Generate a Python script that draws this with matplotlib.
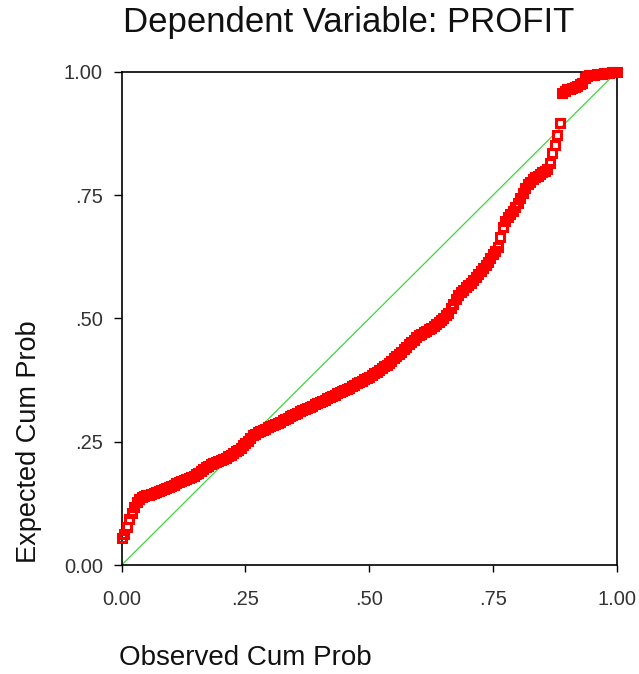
import matplotlib
matplotlib.use("Agg")
import matplotlib.pyplot as plt

plt.rcParams['font.family'] = ['Liberation Sans', 'DejaVu Sans']

TITLE = "Dependent Variable: PROFIT"
XLABEL = "Observed Cum Prob"
YLABEL = "Expected Cum Prob"
TICKS = [0.0, 0.25, 0.5, 0.75, 1.0]
TICK_LABELS = ["0.00", ".25", ".50", ".75", "1.00"]

# observed cumulative probability (x) and expected cumulative probability (y)
observed = [
    0.000, 0.005, 0.010, 0.015, 0.020, 0.025, 0.030, 0.035, 0.040, 0.045,
    0.050, 0.055, 0.060, 0.065, 0.070, 0.075, 0.080, 0.085, 0.090, 0.095,
    0.100, 0.105, 0.110, 0.115, 0.120, 0.125, 0.130, 0.135, 0.140, 0.145,
    0.150, 0.155, 0.160, 0.165, 0.170, 0.175, 0.180, 0.185, 0.190, 0.195,
    0.200, 0.205, 0.210, 0.215, 0.220, 0.225, 0.230, 0.235, 0.240, 0.245,
    0.250, 0.255, 0.260, 0.265, 0.270, 0.275, 0.280, 0.285, 0.290, 0.295,
    0.300, 0.305, 0.310, 0.315, 0.320, 0.325, 0.330, 0.335, 0.340, 0.345,
    0.350, 0.355, 0.360, 0.365, 0.370, 0.375, 0.380, 0.385, 0.390, 0.395,
    0.400, 0.405, 0.410, 0.415, 0.420, 0.425, 0.430, 0.435, 0.440, 0.445,
    0.450, 0.455, 0.460, 0.465, 0.470, 0.475, 0.480, 0.485, 0.490, 0.495,
    0.500, 0.505, 0.510, 0.515, 0.520, 0.525, 0.530, 0.535, 0.540, 0.545,
    0.550, 0.555, 0.560, 0.565, 0.570, 0.575, 0.580, 0.585, 0.590, 0.595,
    0.600, 0.605, 0.610, 0.615, 0.620, 0.625, 0.630, 0.635, 0.640, 0.645,
    0.650, 0.655, 0.660, 0.665, 0.670, 0.675, 0.680, 0.685, 0.690, 0.695,
    0.700, 0.705, 0.710, 0.715, 0.720, 0.725, 0.730, 0.735, 0.740, 0.745,
    0.750, 0.755, 0.760, 0.765, 0.770, 0.775, 0.780, 0.785, 0.790, 0.795,
    0.800, 0.805, 0.810, 0.815, 0.820, 0.825, 0.830, 0.835, 0.840, 0.845,
    0.850, 0.855, 0.860, 0.865, 0.870, 0.875, 0.880, 0.885, 0.890, 0.895,
    0.900, 0.905, 0.910, 0.915, 0.920, 0.925, 0.930, 0.935, 0.940, 0.945,
    0.950, 0.955, 0.960, 0.965, 0.970, 0.975, 0.980, 0.985, 0.990, 0.995,
    1.000,
]
expected = [
    0.055, 0.062, 0.078, 0.093, 0.106, 0.118, 0.128, 0.134, 0.137, 0.139,
    0.141, 0.143, 0.145, 0.147, 0.149, 0.151, 0.152, 0.154, 0.156, 0.158,
    0.160, 0.163, 0.166, 0.168, 0.170, 0.172, 0.174, 0.176, 0.178, 0.181,
    0.184, 0.187, 0.190, 0.194, 0.198, 0.201, 0.204, 0.206, 0.208, 0.210,
    0.212, 0.215, 0.218, 0.221, 0.223, 0.227, 0.231, 0.234, 0.238, 0.243,
    0.248, 0.252, 0.257, 0.263, 0.266, 0.269, 0.271, 0.274, 0.276, 0.279,
    0.281, 0.284, 0.286, 0.289, 0.291, 0.294, 0.297, 0.299, 0.302, 0.304,
    0.307, 0.309, 0.312, 0.314, 0.316, 0.319, 0.321, 0.323, 0.326, 0.328,
    0.330, 0.333, 0.335, 0.338, 0.340, 0.343, 0.345, 0.348, 0.350, 0.353,
    0.355, 0.358, 0.360, 0.363, 0.366, 0.369, 0.372, 0.374, 0.377, 0.379,
    0.382, 0.385, 0.389, 0.392, 0.395, 0.399, 0.403, 0.406, 0.410, 0.414,
    0.419, 0.423, 0.428, 0.433, 0.438, 0.443, 0.448, 0.452, 0.457, 0.462,
    0.466, 0.469, 0.472, 0.475, 0.478, 0.481, 0.485, 0.488, 0.492, 0.497,
    0.502, 0.507, 0.512, 0.521, 0.530, 0.539, 0.548, 0.553, 0.558, 0.563,
    0.568, 0.573, 0.579, 0.584, 0.590, 0.596, 0.602, 0.608, 0.614, 0.622,
    0.630, 0.637, 0.645, 0.665, 0.685, 0.697, 0.705, 0.711, 0.718, 0.726,
    0.735, 0.745, 0.755, 0.764, 0.772, 0.777, 0.782, 0.786, 0.790, 0.794,
    0.797, 0.800, 0.803, 0.815, 0.835, 0.852, 0.872, 0.896, 0.958, 0.962,
    0.965, 0.966, 0.968, 0.970, 0.972, 0.975, 0.978, 0.988, 0.992, 0.993,
    0.994, 0.994, 0.995, 0.996, 0.996, 0.997, 0.998, 0.998, 0.999, 0.999,
    1.000,
]

RED, GREEN, TICKC = "#ff0000", "#3fd43f", "#333333"

fig = plt.figure(figsize=(6.39, 6.74), dpi=100)
ax = fig.add_axes([0.1905, 0.1617, 0.7746, 0.7315])

ax.plot([0, 1], [0, 1], color=GREEN, lw=0.9, zorder=2)
ax.plot(observed, expected, ls="none", marker="s", ms=6.2, mew=2.2,
        mfc="none", mec=RED, clip_on=False, zorder=3)

ax.set_xlim(0, 1)
ax.set_ylim(0, 1)
ax.set_xticks(TICKS, TICK_LABELS)
ax.set_yticks(TICKS, TICK_LABELS)
ax.tick_params(axis="x", direction="out", length=5, width=1, pad=13,
               labelsize=14.5, labelcolor=TICKC)
ax.tick_params(axis="y", direction="out", length=5.5, width=1, pad=8,
               labelsize=14.5, labelcolor=TICKC)
for s in ax.spines.values():
    s.set_linewidth(1.2)

fig.text(349 / 639, 1 - 32 / 674, TITLE, ha="center", va="baseline",
         fontsize=25, color="#111111")
fig.text(119 / 639, 1 - 665 / 674, XLABEL, ha="left", va="baseline",
         fontsize=20, color="#111111")
fig.text(29 / 639, 1 - 563 / 674, YLABEL, ha="center", va="bottom",
         rotation=90, fontsize=19.5, color="#111111")

fig.savefig("out.png", dpi=100)
